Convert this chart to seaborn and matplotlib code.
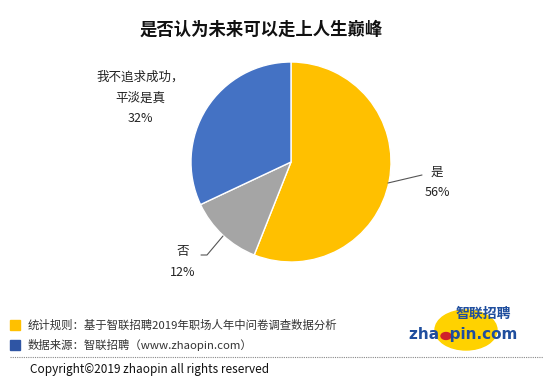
import matplotlib
matplotlib.use("Agg")
import matplotlib.pyplot as plt
import seaborn as sns
from matplotlib.patches import Ellipse, Rectangle, Circle
from matplotlib.lines import Line2D

# data
labels = ["是", "否", "我不追求成功，\n平淡是真"]
shares = [56, 12, 32]
colors = ["#FFC000", "#A5A5A5", "#4472C4"]

title = "是否认为未来可以走上人生巅峰"
notes = ["统计规则：基于智联招聘2019年职场人年中问卷调查数据分析",
         "数据来源：智联招聘（www.zhaopin.com）"]
note_colors = ["#FFC000", "#2F55A4"]
copyright_text = "Copyright©2019 zhaopin all rights reserved"

sns.set_style("white")
plt.rcParams['font.family'] = ['Noto Sans CJK SC', 'DejaVu Sans']

W, H = 553, 383
fig = plt.figure(figsize=(W / 100, H / 100), dpi=100)

def fx(px):
    return px / W

def fy(py):
    return 1 - py / H

# pie: centre (291,162), radius 100 px
ax = fig.add_axes([fx(191), fy(262), 200 / W, 200 / H])
wedges, _ = ax.pie(shares, colors=colors, startangle=90, counterclock=False,
                   radius=1, wedgeprops=dict(edgecolor="white", linewidth=1))
ax.set_xlim(-1, 1)
ax.set_ylim(-1, 1)
ax.set_aspect("equal")
ax.axis("off")

# labels with leader lines (data coords: 1 unit = 100 px)
lab_kw = dict(ha="center", va="center", fontsize=9, color="#222222")
ax.text(1.46, -0.2, f"{labels[0]}\n{shares[0]}%", linespacing=1.75, clip_on=False, **lab_kw)
ax.plot([0.97, 1.31], [-0.21, -0.13], color="#555555", lw=0.8, clip_on=False)

ax.text(-1.08, -1.0, f"{labels[1]}\n{shares[1]}%", linespacing=1.75, clip_on=False, **lab_kw)
ax.plot([-0.68, -0.84, -0.9], [-0.74, -0.93, -0.93], color="#555555", lw=0.8, clip_on=False)

ax.text(-1.51, 0.64, f"{labels[2]}\n{shares[2]}%", linespacing=1.75, clip_on=False, **lab_kw)

# title
fig.text(fx(261), fy(30), title, ha="center", va="center", fontsize=12.5,
         fontweight="bold", color="#111111")

# footnotes
for i, (note, c) in enumerate(zip(notes, note_colors)):
    yy = 325 + i * 20
    fig.patches.append(Rectangle((fx(10), fy(yy + 5)), 10 / W, 10 / H,
                                 transform=fig.transFigure, color=c))
    fig.text(fx(28), fy(yy), note, ha="left", va="center", fontsize=8.2, color="#333333")

# separator and copyright
fig.lines.append(Line2D([fx(10), fx(543)], [fy(357), fy(357)], transform=fig.transFigure,
                        color="#888888", lw=0.8, ls=(0, (1, 1))))
fig.text(fx(30), fy(369), copyright_text, ha="left", va="center", fontsize=8.5, color="#111111")

# logo
fig.patches.append(Ellipse((fx(466), fy(330)), 62 / W, 40 / H, transform=fig.transFigure,
                           color="#FFD200"))
fig.text(fx(483), fy(314), "智联招聘", ha="center", va="center", fontsize=10,
         fontweight="bold", style="italic", color="#1F4E9E")
fig.text(fx(463), fy(335), "zha  pin.com", ha="center", va="center", fontsize=11,
         fontweight="bold", color="#1F4E9E", family="DejaVu Sans")
fig.patches.append(Circle((fx(446), fy(336)), 5 / W, transform=fig.transFigure,
                          color="#D0202A"))

fig.savefig("out.png", dpi=100)
